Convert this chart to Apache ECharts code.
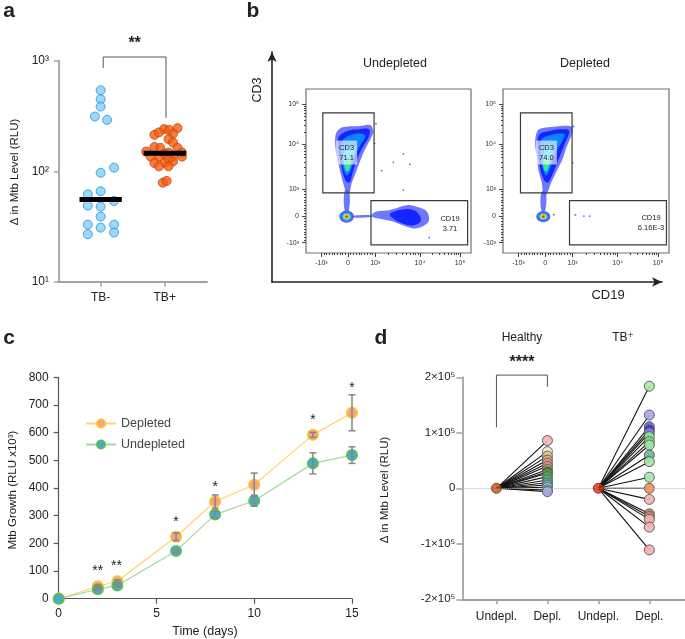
<!DOCTYPE html>
<html><head><meta charset="utf-8">
<script src="https://cdn.jsdelivr.net/npm/echarts@6/dist/echarts.min.js"></script>
<style>html,body{margin:0;padding:0;background:#fff}#c{width:685px;height:639px}</style>
</head><body><div id="c"></div>
<script>
const FONT = 'Liberation Sans, Arial, Helvetica, DejaVu Sans, sans-serif';

// ---------------- Panel a data ----------------
const aCategories = ['TB-', 'TB+'];
const aTBnegValues = [541,449,385,313,292,108,97,62,66,49,48,54,33,39,33,31,28,27];
const aTBnegJitter = [0,0,0,-0.09,0.1,0.21,0,-0.2,0,-0.2,0,0.21,-0.2,0,0.21,0,0.21,-0.2];
const aTBposValues = [241,237,246,214,225,219,196,182,151,166,163,148,163,148,136,136,144,136,136,119,120,129,123,111,111,79,82];
const aTBposJitter = [-0.01,0.07,0.2,-0.16,-0.09,0.13,0.06,0.13,-0.29,-0.16,-0.07,0.06,0.2,0.27,-0.22,-0.09,0,0.13,0.27,-0.16,0,0.06,0.13,-0.09,0.06,-0.03,0.03];
const aMedians = [55.6, 146];
const aBracket = [[1.04, 860], [1.04, 1080], [2.02, 1080], [2.02, 305]];
const aStars = [[1.53, 1440, '**']];

// ---------------- Panel b data (biexponential display units) ----------------
const bPlotTitles = ['Undepleted', 'Depleted'];
const bTickValues = [-1000, 0, 1000, 10000, 100000];
const bTickLabels = ['-10³', '0', '10³', '10⁴', '10⁵'];
const b1Contours = [
  {lv:0, pts:[[-0.43,2.95],[-0.29,3.13],[0.0,3.2],[0.43,3.22],[0.79,3.25],[0.9,3.05],[0.85,2.85],[0.67,2.5],[0.49,2.12],[0.31,1.64],[0.13,1.17],[0.04,0.81],[-0.05,0.81],[-0.17,1.17],[-0.29,1.64],[-0.4,2.12],[-0.46,2.6]]},
  {lv:1, pts:[[-0.32,2.85],[0.0,3.05],[0.4,3.1],[0.75,3.1],[0.75,2.85],[0.55,2.5],[0.35,2.1],[0.18,1.6],[0.05,1.2],[-0.1,1.3],[-0.22,1.7],[-0.32,2.2],[-0.36,2.6]]},
  {lv:2, pts:[[-0.2,2.7],[0.1,2.9],[0.45,2.95],[0.62,2.85],[0.45,2.55],[0.25,2.15],[0.1,1.65],[-0.05,1.45],[-0.18,1.75],[-0.25,2.2]]},
  {lv:3, pts:[[-0.12,2.3],[0.1,2.5],[0.25,2.4],[0.12,2.0],[0.02,1.6],[-0.12,1.7]]},
  {lv:4, pts:[[-0.08,1.95],[0.1,2.05],[0.08,1.75],[-0.02,1.6],[-0.1,1.72]]},
  {lv:0, pts:[[-0.12,0.9],[0.04,0.9],[0.03,0.2],[-0.12,0.2]]},
  {lv:0, pts:[[0.85,0.05],[1.02,0.16],[1.5,0.22],[2.1,0.39],[2.45,0.33],[2.81,0.16],[2.87,-0.2],[2.45,-0.44],[2.1,-0.38],[1.62,-0.2],[1.02,-0.08],[0.85,-0.02]]},
  {lv:1, pts:[[1.5,0.08],[2.1,0.25],[2.45,0.15],[2.6,-0.18],[2.25,-0.34],[1.7,-0.15]]},
  {lv:0, pts:[[0.2,0.02],[0.85,0.03],[0.85,-0.03],[0.2,-0.05]]}
];
const b2Contours = [
  {lv:0, pts:[[-0.3,3.0],[-0.18,3.12],[0.2,3.18],[0.54,3.22],[0.95,3.19],[0.95,2.95],[0.77,2.5],[0.6,2.0],[0.42,1.64],[0.2,1.17],[0.06,0.81],[-0.06,0.75],[-0.12,1.17],[-0.24,1.64],[-0.3,2.12],[-0.36,2.6]]},
  {lv:1, pts:[[-0.22,2.9],[0.2,3.05],[0.6,3.1],[0.85,3.05],[0.7,2.6],[0.5,2.1],[0.3,1.6],[0.1,1.2],[-0.05,1.3],[-0.18,1.7],[-0.26,2.3]]},
  {lv:2, pts:[[-0.12,2.75],[0.2,2.9],[0.55,2.95],[0.7,2.9],[0.5,2.5],[0.3,2.1],[0.15,1.65],[0.02,1.45],[-0.1,1.75],[-0.18,2.2]]},
  {lv:3, pts:[[-0.05,2.3],[0.15,2.5],[0.3,2.4],[0.18,2.0],[0.06,1.6],[-0.06,1.7]]},
  {lv:4, pts:[[-0.03,1.95],[0.14,2.05],[0.12,1.75],[0.02,1.6],[-0.06,1.72]]},
  {lv:0, pts:[[-0.14,0.85],[0.02,0.85],[0.0,0.2],[-0.14,0.2]]}
];
// double-negative cluster: centre x, centre y, radius x, radius y
const b1Cluster = [-0.05, -0.02, 0.26, 0.22];
const b2Cluster = [-0.07, -0.02, 0.25, 0.2];
const b1Stray = [[1.975,2.22],[1.62,1.92],[2.21,1.85],[1.2,1.62],[1.975,0.93],[2.9,-0.77],[1.0,3.3],[0.95,2.6]];
const b2Stray = [[1.07,0.04],[1.37,0.0],[1.58,0.0],[1.0,3.2],[0.97,1.9],[0.3,0.05]];
// gates: [x1, y1, x2, y2]
const b1Gates = [[-0.9,0.83,0.93,3.69],[0.82,-1.03,4.27,0.55]];
const b2Gates = [[-0.88,0.83,0.95,3.69],[0.86,-1.03,4.3,0.55]];
const b1GateLabels = [[-0.05,2.27,'CD3','71.1'],[3.64,-0.27,'CD19','3.71']];
const b2GateLabels = [[0.04,2.27,'CD3','74.0'],[3.75,-0.25,'CD19','6.16E-3']];

// ---------------- Panel c data ----------------
const cDays = [0,2,3,6,8,10,13,15];
const cDepleted = [0,45,63,224,351,412,592,672];
const cDepletedErr = [0,4,5,14,24,42,9,65];
const cUndepleted = [0,34,48,172,304,354,489,519];
const cUndepletedErr = [0,3,4,6,12,20,38,30];
const cStars = [[2,100,'**'],[2.95,118,'**'],[6,276,'*'],[8,404,'*'],[13,644,'*'],[15,760,'*']];

// ---------------- Panel d data ----------------
const dCategories = ['Undepl.','Depl.','Undepl.','Depl.'];
const dGroups = ['Healthy','TB⁺'];
const dHealthyDepl = [86000,66000,58000,51000,45000,40000,34000,30000,27000,21000,15000,10000,6000,2000,-3000,-6000];
const dTBDepl = [184000,132000,111000,105000,100000,93000,84000,78000,60000,48000,20000,0,-20000,-46000,-51000,-56000,-70000,-111000];
const dHealthyColors = ['#f6b3b6','#f3e3cf','#e2c48f','#d6aa63','#f0a2a2','#e57f7f','#caa674','#3b8a2b','#4f9e3e','#52ad5b','#62b985','#5bb7a1','#71c1b9','#8ccad3','#8fb0da','#a9a8e2'];
const dTBColors = ['#a9e8a9','#a6a6f0','#6666e6','#3434c4','#8585ea','#93e493','#86dc86','#9ee39e','#6fb3a2','#a3e3a3','#a9e6a9','#f19059','#f5b2b2','#c2835f','#d3946f','#f3b1b1','#f5b5b5','#f5b1b1'];
const dBracket = [[1,110000],[1,204000],[2,204000],[2,183000]];
const dStars = [[1.5,226000,'****']];

// ---------------- helpers ----------------
const DA = [-0.95, 0, 0.97, 2.57, 4.0];
function toDisp(v) {
  if (v < 0) return v / 1000 * (-DA[0]);
  if (v <= 1000) return v / 1000 * DA[2];
  if (v <= 10000) return DA[2] + (DA[3] - DA[2]) * Math.log10(v / 1000);
  return DA[3] + (DA[4] - DA[3]) * Math.log10(v / 10000);
}
const bTickPos = bTickValues.map(toDisp);
const bMinorVals = [];
for (let v = -900; v <= 900; v += 100) if (v !== 0) bMinorVals.push(v);
for (let v = 2000; v < 10000; v += 1000) bMinorVals.push(v);
for (let v = 20000; v < 100000; v += 10000) bMinorVals.push(v);
const bMinorPos = bMinorVals.map(toDisp);
const LEVEL_COLORS = ['#4a56ff', '#1426ff', '#0a84ff', '#1ccfff', '#3fe67c'];
const CLUSTER_COLORS = ['#3c3cff', '#16a8ff', '#a2ee3a', '#f5d400', '#ff2200'];

function labelForTick(v) {
  let best = 0;
  bTickPos.forEach((p, i) => { if (Math.abs(p - v) < Math.abs(bTickPos[best] - v)) best = i; });
  return bTickLabels[best];
}

function flowX(grid, minor) {
  return {
    type: 'value', gridIndex: grid, min: -1.5, max: 4.39, position: 'bottom',
    axisLine: {show: false, onZero: false}, splitLine: {show: false},
    axisTick: {show: true, length: minor ? 2 : 4, customValues: minor ? bMinorPos : bTickPos, lineStyle: {color: '#444', width: 1}},
    axisLabel: minor ? {show: false} : {show: true, customValues: bTickPos, formatter: labelForTick, fontSize: 7, color: '#333', margin: 7, fontFamily: FONT}
  };
}
function flowY(grid, minor) {
  return {
    type: 'value', gridIndex: grid, min: -1.32, max: 4.54, position: 'left',
    axisLine: {show: false, onZero: false}, splitLine: {show: false},
    axisTick: {show: true, length: minor ? 2 : 4, customValues: minor ? bMinorPos : bTickPos, lineStyle: {color: '#444', width: 1}},
    axisLabel: minor ? {show: false} : {show: true, customValues: bTickPos, formatter: labelForTick, fontSize: 7, color: '#333', margin: 7, fontFamily: FONT}
  };
}
function contourSeries(grid, shapes) {
  return {
    type: 'custom', xAxisIndex: grid, yAxisIndex: grid, silent: true, z: 2,
    data: shapes.map((s, i) => [i]),
    renderItem: (params, api) => {
      const s = shapes[params.dataIndex];
      return {type: 'polygon', shape: {points: s.pts.map(p => api.coord(p)), smooth: 0.35},
        style: {fill: LEVEL_COLORS[s.lv], opacity: s.lv === 0 ? 0.8 : 1}};
    }
  };
}
function clusterSeries(grid, cl) {
  const scales = [1, 0.7, 0.48, 0.32, 0.2];
  return {
    type: 'custom', xAxisIndex: grid, yAxisIndex: grid, silent: true, z: 3,
    data: scales.map((s, i) => [i]),
    renderItem: (params, api) => {
      const k = scales[params.dataIndex];
      const c = api.coord([cl[0], cl[1]]);
      const sz = api.size([cl[2] * k, cl[3] * k]);
      const r = Math.max(sz[0], 0.5);
      return {type: 'circle', x: c[0], y: c[1], scaleY: sz[1] / r, shape: {cx: 0, cy: 0, r: r},
        style: {fill: CLUSTER_COLORS[params.dataIndex], opacity: params.dataIndex === 0 ? 0.85 : 1}};
    }
  };
}
function gateSeries(grid, gates) {
  return {
    type: 'custom', xAxisIndex: grid, yAxisIndex: grid, silent: true, z: 5,
    data: gates.map((g, i) => [i]),
    renderItem: (params, api) => {
      const g = gates[params.dataIndex];
      const p1 = api.coord([g[0], g[3]]), p2 = api.coord([g[2], g[1]]);
      return {type: 'rect', shape: {x: p1[0], y: p1[1], width: p2[0] - p1[0], height: p2[1] - p1[1]},
        style: {fill: 'none', stroke: '#3a3a3a', lineWidth: 1.2}};
    }
  };
}
function gateLabelSeries(grid, labels) {
  return {
    type: 'custom', xAxisIndex: grid, yAxisIndex: grid, silent: true, z: 6,
    data: labels.map((l, i) => [i]),
    renderItem: (params, api) => {
      const l = labels[params.dataIndex];
      const c = api.coord([l[0], l[1]]);
      const boxed = params.dataIndex === 0;
      return {type: 'text', x: c[0], y: c[1], style: {text: l[2] + '\n' + l[3], fontSize: 7.5, lineHeight: 10,
        fontFamily: FONT, fill: '#222', align: 'center', verticalAlign: 'middle',
        backgroundColor: boxed ? 'rgba(255,255,255,0.62)' : 'transparent', padding: boxed ? [2, 3] : 0}};
    }
  };
}
function straySeries(grid, pts) {
  return {type: 'scatter', xAxisIndex: grid, yAxisIndex: grid, silent: true, z: 4, symbolSize: 1.8,
    itemStyle: {color: '#3a3aff'}, data: pts};
}
function textSeries(grid, items, size, weight) {
  return {
    type: 'custom', xAxisIndex: grid, yAxisIndex: grid, silent: true, z: 8, clip: false,
    data: items.map((t, i) => [t[0], t[1]]),
    renderItem: (params, api) => {
      const c = api.coord([api.value(0), api.value(1)]);
      return {type: 'text', x: c[0], y: c[1], style: {text: items[params.dataIndex][2], fontSize: size,
        fontWeight: weight, fontFamily: FONT, fill: '#222', align: 'center', verticalAlign: 'middle'}};
    }
  };
}
function bracketSeries(grid, pts) {
  return {
    type: 'custom', xAxisIndex: grid, yAxisIndex: grid, silent: true, z: 8, clip: false,
    data: [[0]],
    renderItem: (params, api) => ({type: 'polyline', shape: {points: pts.map(p => api.coord(p))},
      style: {fill: 'none', stroke: '#555', lineWidth: 1}})
  };
}
function errSeries(grid, days, means, errs) {
  return {
    type: 'custom', xAxisIndex: grid, yAxisIndex: grid, silent: true, z: 4,
    data: days.map((d, i) => [d, means[i], errs[i]]),
    renderItem: (params, api) => {
      const x = api.value(0), m = api.value(1), e = api.value(2);
      if (!e) return null;
      const t = api.coord([x, m + e]), b = api.coord([x, m - e]), w = 3.5;
      const st = {stroke: '#868686', lineWidth: 1.5};
      return {type: 'group', children: [
        {type: 'line', shape: {x1: t[0], y1: t[1], x2: b[0], y2: b[1]}, style: st},
        {type: 'line', shape: {x1: t[0] - w, y1: t[1], x2: t[0] + w, y2: t[1]}, style: st},
        {type: 'line', shape: {x1: b[0] - w, y1: b[1], x2: b[0] + w, y2: b[1]}, style: st}
      ]};
    }
  };
}

const supMap = {'1': '¹', '2': '²', '3': '³'};
const gray = '#a2a2a2';
const dPairs = dHealthyDepl.map(v => [1, 2, v]).concat(dTBDepl.map(v => [3, 4, v]));

function axisTitle(text, x, y, rot, size, weight) {
  return {type: 'text', x: x, y: y, rotation: rot ? Math.PI / 2 : 0,
    style: {text: text, fontSize: size, fontWeight: weight || 'normal', fontFamily: FONT, fill: '#222', align: 'center', verticalAlign: 'middle'}};
}

const option = {
  animation: false,
  backgroundColor: '#fff',
  textStyle: {fontFamily: FONT},
  grid: [
    {left: 59, top: 60.7, width: 148, height: 221.3, outerBoundsMode: 'none'},
    {left: 272, top: 52, width: 390, height: 230, outerBoundsMode: 'none'},
    {left: 306, top: 89, width: 165, height: 164, show: true, borderColor: '#707070', borderWidth: 1.2, outerBoundsMode: 'none'},
    {left: 503, top: 89, width: 166, height: 164, show: true, borderColor: '#707070', borderWidth: 1.2, outerBoundsMode: 'none'},
    {left: 58.7, top: 377.3, width: 293.3, height: 221.4, outerBoundsMode: 'none'},
    {left: 462.3, top: 377.3, width: 222.7, height: 222, outerBoundsMode: 'none'}
  ],
  xAxis: [
    {type: 'value', gridIndex: 0, min: 0.35, max: 2.66, splitLine: {show: false},
      axisLine: {lineStyle: {color: gray, width: 1.8}},
      axisTick: {customValues: [1, 2], length: 5, lineStyle: {color: gray, width: 1.5}},
      axisLabel: {customValues: [1, 2], formatter: v => aCategories[Math.round(v) - 1], fontSize: 12, color: '#222', margin: 10}},
    {type: 'value', gridIndex: 1, min: 0, max: 1, splitLine: {show: false}, axisTick: {show: false}, axisLabel: {show: false},
      axisLine: {onZero: false, symbol: ['none', 'arrow'], symbolSize: [7, 10], lineStyle: {color: '#222', width: 1.6}}},
    flowX(2, false),
    flowX(3, false),
    {type: 'value', gridIndex: 4, min: 0, max: 15, interval: 5, splitLine: {show: false},
      axisLine: {lineStyle: {color: '#555', width: 1.2}},
      axisTick: {length: 5, lineStyle: {color: '#555', width: 1.2}},
      axisLabel: {fontSize: 12, color: '#222', margin: 9}},
    {type: 'value', gridIndex: 5, min: 0.33, max: 4.7, splitLine: {show: false},
      axisLine: {onZero: false, lineStyle: {color: gray, width: 1.8}},
      axisTick: {customValues: [1, 2, 3, 4], length: 5, lineStyle: {color: gray, width: 1.5}},
      axisLabel: {customValues: [1, 2, 3, 4], formatter: v => dCategories[Math.round(v) - 1], fontSize: 12, color: '#222', margin: 11}},
    flowX(2, true),
    flowX(3, true)
  ],
  yAxis: [
    {type: 'log', logBase: 10, gridIndex: 0, min: 10, max: 1000, splitLine: {show: false},
      axisLine: {lineStyle: {color: gray, width: 1.8}},
      axisTick: {length: 5, lineStyle: {color: gray, width: 1.5}},
      axisLabel: {formatter: v => '10' + supMap[String(Math.round(Math.log10(v)))], fontSize: 12, color: '#222', margin: 10}},
    {type: 'value', gridIndex: 1, min: 0, max: 1, splitLine: {show: false}, axisTick: {show: false}, axisLabel: {show: false},
      axisLine: {onZero: false, symbol: ['none', 'arrow'], symbolSize: [7, 10], lineStyle: {color: '#222', width: 1.6}}},
    flowY(2, false),
    flowY(3, false),
    {type: 'value', gridIndex: 4, min: 0, max: 800, interval: 100, splitLine: {show: false},
      axisLine: {show: true, lineStyle: {color: '#555', width: 1.2}},
      axisTick: {show: true, length: 5, lineStyle: {color: '#555', width: 1.2}},
      axisLabel: {fontSize: 12, color: '#222', margin: 10}},
    {type: 'value', gridIndex: 5, min: -200000, max: 200000, interval: 100000, splitLine: {show: false},
      axisLine: {show: true, onZero: false, lineStyle: {color: gray, width: 1.8}},
      axisTick: {show: true, length: 6, lineStyle: {color: gray, width: 1.5}},
      axisLabel: {formatter: v => v === 0 ? '0' : (v / 100000) + '×10⁵', fontSize: 11.5, color: '#222', margin: 7}},
    flowY(2, true),
    flowY(3, true)
  ],
  legend: {
    data: ['Depleted', 'Undepleted'], orient: 'vertical', left: 80, top: 412, itemWidth: 30, itemHeight: 10, itemGap: 8,
    textStyle: {fontSize: 12.5, color: '#444', fontFamily: FONT}, selectedMode: false
  },
  series: [
    {type: 'scatter', xAxisIndex: 0, yAxisIndex: 0, symbolSize: 9, z: 3,
      itemStyle: {color: '#82d0f6', borderColor: '#2f8fd8', borderWidth: 1},
      data: aTBnegValues.map((v, i) => [1 + aTBnegJitter[i], v])},
    {type: 'scatter', xAxisIndex: 0, yAxisIndex: 0, symbolSize: 9, z: 3,
      itemStyle: {color: '#f55d10', borderColor: '#c8440a', borderWidth: 1},
      data: aTBposValues.map((v, i) => [2 + aTBposJitter[i], v])},
    {type: 'custom', xAxisIndex: 0, yAxisIndex: 0, silent: true, z: 5,
      data: aMedians.map((m, i) => [i + 1, m]),
      renderItem: (params, api) => {
        const x = api.value(0), y = api.value(1);
        const p1 = api.coord([x - 0.33, y]), p2 = api.coord([x + 0.33, y]);
        return {type: 'line', shape: {x1: p1[0], y1: p1[1], x2: p2[0], y2: p2[1]}, style: {stroke: '#000', lineWidth: 5}};
      }},
    bracketSeries(0, aBracket),
    textSeries(0, aStars, 16, 'bold'),
    contourSeries(2, b1Contours), clusterSeries(2, b1Cluster), straySeries(2, b1Stray), gateSeries(2, b1Gates), gateLabelSeries(2, b1GateLabels),
    contourSeries(3, b2Contours), clusterSeries(3, b2Cluster), straySeries(3, b2Stray), gateSeries(3, b2Gates), gateLabelSeries(3, b2GateLabels),
    {name: 'Depleted', type: 'line', xAxisIndex: 4, yAxisIndex: 4, z: 3, symbol: 'circle', symbolSize: 10,
      lineStyle: {color: '#fbd56c', width: 1.2},
      itemStyle: {color: '#f5a386', borderColor: '#fdbd38', borderWidth: 2},
      data: cDays.map((d, i) => [d, cDepleted[i]])},
    {name: 'Undepleted', type: 'line', xAxisIndex: 4, yAxisIndex: 4, z: 3, symbol: 'circle', symbolSize: 10,
      lineStyle: {color: '#a6d79d', width: 1.2},
      itemStyle: {color: '#45a9d6', borderColor: '#5cbd55', borderWidth: 2},
      data: cDays.map((d, i) => [d, cUndepleted[i]])},
    errSeries(4, cDays, cDepleted, cDepletedErr),
    errSeries(4, cDays, cUndepleted, cUndepletedErr),
    textSeries(4, cStars, 14, 'normal'),
    {type: 'custom', xAxisIndex: 5, yAxisIndex: 5, silent: true, z: 2,
      data: dPairs.map((p, i) => [i]),
      renderItem: (params, api) => {
        const p = dPairs[params.dataIndex];
        const a = api.coord([p[0], 0]), b = api.coord([p[1], p[2]]);
        return {type: 'line', shape: {x1: a[0], y1: a[1], x2: b[0], y2: b[1]}, style: {stroke: '#111', lineWidth: 1.1}};
      },
      markLine: {silent: true, symbol: 'none', label: {show: false},
        lineStyle: {color: '#b5b5b5', type: 'dotted', width: 1}, data: [{yAxis: 0}]}},
    {type: 'scatter', xAxisIndex: 5, yAxisIndex: 5, symbolSize: 10, z: 4,
      itemStyle: {borderColor: '#555', borderWidth: 1, opacity: 0.9},
      data: dHealthyDepl.map((v, i) => ({value: [2, v], itemStyle: {color: dHealthyColors[i]}}))},
    {type: 'scatter', xAxisIndex: 5, yAxisIndex: 5, symbolSize: 10, z: 4,
      itemStyle: {borderColor: '#555', borderWidth: 1, opacity: 0.9},
      data: dTBDepl.map((v, i) => ({value: [4, v], itemStyle: {color: dTBColors[i]}}))},
    {type: 'scatter', xAxisIndex: 5, yAxisIndex: 5, symbolSize: 10, z: 5,
      itemStyle: {borderColor: '#5a2a0a', borderWidth: 1},
      data: [{value: [1, 0], itemStyle: {color: '#c2531a'}}, {value: [3, 0], itemStyle: {color: '#d8300f'}}]},
    bracketSeries(5, dBracket),
    textSeries(5, dStars, 16, 'bold')
  ],
  graphic: [
    axisTitle('a', 9, 11, false, 21, 'bold'),
    axisTitle('b', 253, 11, false, 21, 'bold'),
    axisTitle('c', 9, 338, false, 21, 'bold'),
    axisTitle('d', 381, 338, false, 21, 'bold'),
    axisTitle('Δ in Mtb Level (RLU)', 15, 172, true, 11.5),
    axisTitle(bPlotTitles[0], 395, 64, false, 12.5),
    axisTitle(bPlotTitles[1], 585, 64, false, 12.5),
    axisTitle('CD3', 258, 90, true, 12.5),
    axisTitle('CD19', 608, 295, false, 13),
    axisTitle('Mtb Growth (RLU x10³)', 13, 490, true, 11.5),
    axisTitle('Time (days)', 205, 632, false, 12.5),
    axisTitle('Δ in Mtb Level (RLU)', 385, 490, true, 11.5),
    axisTitle(dGroups[0], 522, 338, false, 12),
    axisTitle(dGroups[1], 623, 338, false, 12)
  ]
};

const chart = echarts.init(document.getElementById('c'));
chart.setOption(option);
</script>
</body></html>
